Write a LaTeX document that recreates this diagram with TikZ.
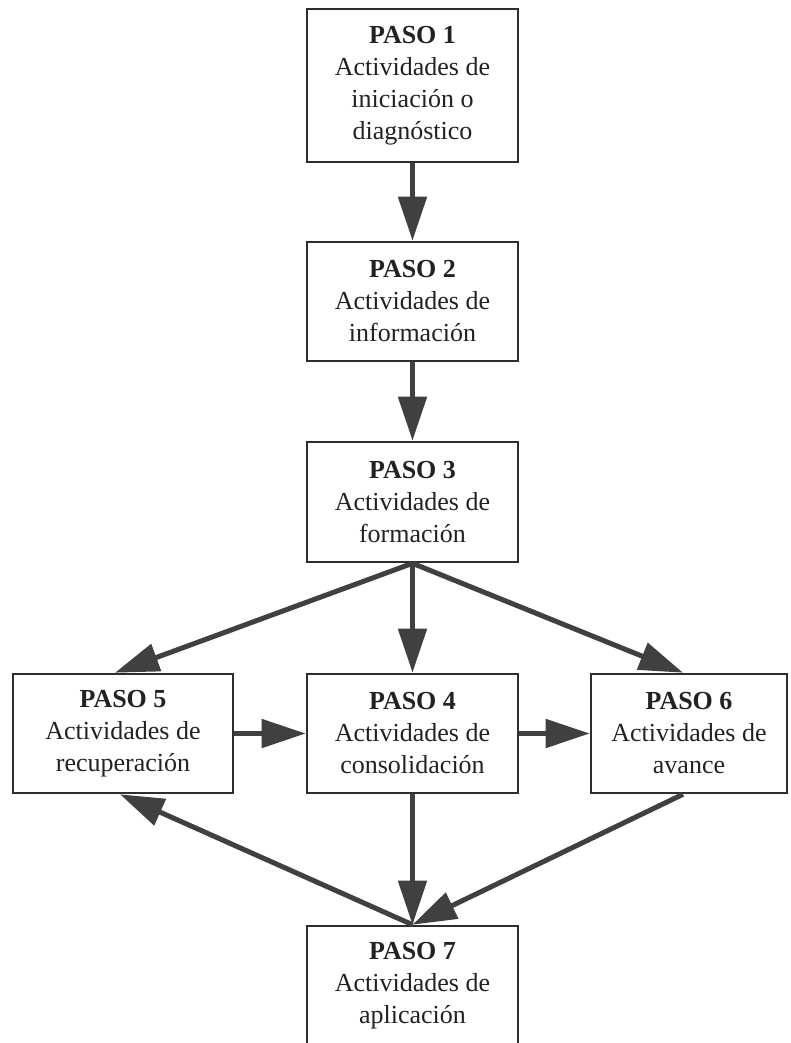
\documentclass[tikz,border=0pt]{standalone}
\usepackage{fontspec}
\setmainfont{Liberation Serif}
\usetikzlibrary{arrows.meta}
\definecolor{inkline}{HTML}{2E2E2E}
\definecolor{arrowgray}{HTML}{404040}
\definecolor{inktext}{HTML}{222222}
\begin{document}
\begin{tikzpicture}[x=1pt,y=-1pt,
  stepbox/.style={draw=inkline, line width=2.6pt, fill=white, inner sep=0pt,
    align=center, text=inktext, font=\fontsize{26}{32}\selectfont},
  flow/.style={draw=arrowgray, line width=5pt,
    -{Triangle[length=44pt,width=28pt]}}]
\useasboundingbox[fill=white] (0,0) rectangle (790,1043);
\clip (0,0) rectangle (790,1043);

% step boxes
\node[stepbox, minimum width=211pt, minimum height=153pt] (b1) at (412.5,85.5)
  {\textbf{PASO 1}\\Actividades de\\iniciación o\\diagnóstico};
\node[stepbox, minimum width=211pt, minimum height=119pt] (b2) at (412.5,301.5)
  {\textbf{PASO 2}\\Actividades de\\información};
\node[stepbox, minimum width=211pt, minimum height=120pt] (b3) at (412.5,502)
  {\textbf{PASO 3}\\Actividades de\\formación};
\node[stepbox, minimum width=220pt, minimum height=119pt] (b5) at (123,733.5)
  {\textbf{PASO 5}\\Actividades de\\recuperación};
\node[stepbox, minimum width=211pt, minimum height=119pt] (b4) at (412.5,733.5)
  {\textbf{PASO 4}\\Actividades de\\consolidación};
\node[stepbox, minimum width=196pt, minimum height=119pt] (b6) at (689,733.5)
  {\textbf{PASO 6}\\Actividades de\\avance};
\node[stepbox, minimum width=211pt, minimum height=120pt] (b7) at (412.5,986)
  {\textbf{PASO 7}\\Actividades de\\aplicación};

% connectors
\draw[flow] (b1) -- (b2);
\draw[flow] (b2) -- (b3);
\draw[flow] (b3.south) -- ([xshift=-8pt]b5.north);
\draw[flow] (b3.south) -- (b4.north);
\draw[flow] (b3.south) -- ([xshift=-6pt]b6.north);
\draw[flow] (b5) -- (b4);
\draw[flow] (b4) -- (b6);
\draw[flow] (b4) -- (b7);
\draw[flow] (b7.north) -- ([xshift=-3pt]b5.south);
\draw[flow] ([xshift=-6pt]b6.south) -- (b7.north);
\end{tikzpicture}
\end{document}
